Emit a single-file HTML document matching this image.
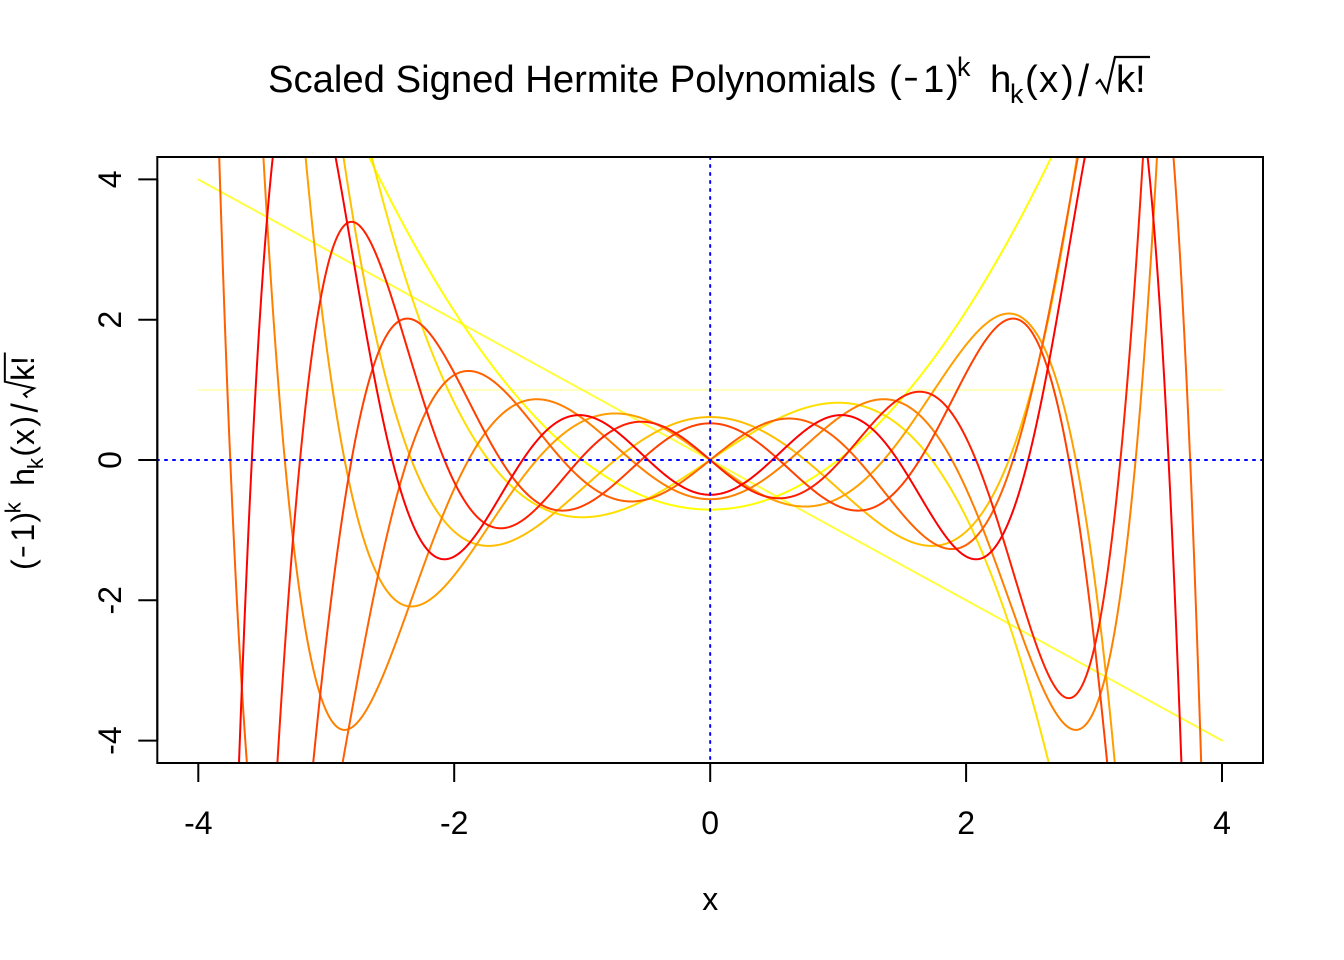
<!DOCTYPE html>
<html><head><meta charset="utf-8">
<style>
html,body{margin:0;padding:0;background:#fff;width:1344px;height:960px;overflow:hidden;}
svg{display:block;}
text{font-family:"Liberation Sans", Arial, sans-serif;fill:#000;}
</style></head>
<body>
<svg id="s" width="1344" height="960" viewBox="0 0 1344 960" xmlns="http://www.w3.org/2000/svg">
<rect width="1344" height="960" fill="#fff"/>
<defs><clipPath id="c"><rect x="157.3" y="157" width="1105.7" height="606"/></clipPath></defs>

<g id="curves" clip-path="url(#c)" fill="none" stroke-width="2" stroke-linejoin="round" stroke-linecap="round"></g>

<g clip-path="url(#c)" stroke="#0000ff" stroke-width="2" stroke-dasharray="2 6" stroke-linecap="round">
<line x1="157" y1="460" x2="1263" y2="460"/>
<line x1="710.2" y1="157" x2="710.2" y2="763"/>
</g>

<!-- box -->
<rect x="157.3" y="157" width="1105.7" height="606" fill="none" stroke="#000" stroke-width="2"/>

<!-- axes ticks -->
<g stroke="#000" stroke-width="2">
<line x1="198.3" y1="763" x2="1222" y2="763"/>
<line x1="198.3" y1="763" x2="198.3" y2="782"/>
<line x1="454.2" y1="763" x2="454.2" y2="782"/>
<line x1="710.2" y1="763" x2="710.2" y2="782"/>
<line x1="966.1" y1="763" x2="966.1" y2="782"/>
<line x1="1222" y1="763" x2="1222" y2="782"/>
<line x1="157.3" y1="179.4" x2="157.3" y2="740.6"/>
<line x1="157.3" y1="179.4" x2="138.3" y2="179.4"/>
<line x1="157.3" y1="319.7" x2="138.3" y2="319.7"/>
<line x1="157.3" y1="460" x2="138.3" y2="460"/>
<line x1="157.3" y1="600.3" x2="138.3" y2="600.3"/>
<line x1="157.3" y1="740.6" x2="138.3" y2="740.6"/>
</g>

<g font-size="32" text-anchor="middle">
<text x="198.3" y="834">-4</text>
<text x="454.2" y="834">-2</text>
<text x="710.2" y="834">0</text>
<text x="966.1" y="834">2</text>
<text x="1222" y="834">4</text>
<text transform="translate(121,179.4) rotate(-90)">4</text>
<text transform="translate(121,319.7) rotate(-90)">2</text>
<text transform="translate(121,460) rotate(-90)">0</text>
<text transform="translate(121,600.3) rotate(-90)">-2</text>
<text transform="translate(121,740.6) rotate(-90)">-4</text>
<text x="710.2" y="910">x</text>
</g>

<!-- title -->
<text x="268" y="92" font-size="38.4" textLength="608" lengthAdjust="spacingAndGlyphs">Scaled Signed Hermite Polynomials</text>
<g font-size="38.4">
<text x="889" y="92">(</text>
<text x="904" y="92" textLength="14" lengthAdjust="spacingAndGlyphs">−</text>
<text x="923" y="92">1</text>
<text x="946" y="92">)</text>
<text x="957" y="76" font-size="26.9">k</text>
<text x="990" y="92">h</text>
<text x="1010" y="103" font-size="26.9">k</text>
<text x="1025" y="92">(</text>
<text x="1039" y="92">x</text>
<text x="1061" y="92">)</text>
<text transform="translate(1078,96) scale(1.25,1.4)" font-size="32">/</text>
<path d="M1096,84 L1100,80 L1107,92 L1115,57 L1150,57" fill="none" stroke="#000" stroke-width="2.2"/>
<text x="1116" y="92">k</text>
<text x="1135" y="92">!</text>
</g>

<!-- y label -->
<g font-size="38.4" transform="translate(34,460) rotate(-90) scale(0.8333) translate(-1021,-92)">
<text x="889" y="92">(</text>
<text x="904" y="92" textLength="14" lengthAdjust="spacingAndGlyphs">−</text>
<text x="923" y="92">1</text>
<text x="946" y="92">)</text>
<text x="957" y="76" font-size="26.9">k</text>
<text x="990" y="92">h</text>
<text x="1010" y="103" font-size="26.9">k</text>
<text x="1025" y="92">(</text>
<text x="1039" y="92">x</text>
<text x="1061" y="92">)</text>
<text transform="translate(1078,96) scale(1.25,1.4)" font-size="32">/</text>
<path d="M1096,84 L1100,80 L1107,92 L1115,57 L1150,57" fill="none" stroke="#000" stroke-width="2.4"/>
<text x="1116" y="92">k</text>
<text x="1135" y="92">!</text>
</g>
</svg>
<script>
(function(){
var cols=["#FFFFBF","#FFFF40","#FFFF00","#FFDF00","#FFBF00","#FF9F00","#FF8000","#FF6000","#FF4000","#FF2000","#FF0000"];
var g=document.getElementById('curves');
var NS='http://www.w3.org/2000/svg';
var N=1600, fact=1;
for(var k=0;k<=10;k++){
  if(k>0) fact*=k;
  var s=Math.sqrt(fact), sg=(k%2)?-1:1, d='';
  for(var i=0;i<=N;i++){
    var x=-4+8*i/N, h;
    if(k==0){h=1;}
    else if(k==1){h=x;}
    else{
      var h0=1,h1=x;
      for(var n=1;n<k;n++){h=x*h1-n*h0;h0=h1;h1=h;}
    }
    var f=sg*h/s;
    if(f>6)f=6; if(f<-6)f=-6;
    var px=710.2+x*127.97, py=460-f*70.14;
    d+=(i?'L':'M')+px.toFixed(2)+','+py.toFixed(2);
  }
  var p=document.createElementNS(NS,'path');
  p.setAttribute('d',d);
  p.setAttribute('stroke',cols[k]);
  g.appendChild(p);
}
})();
</script>
</body></html>
